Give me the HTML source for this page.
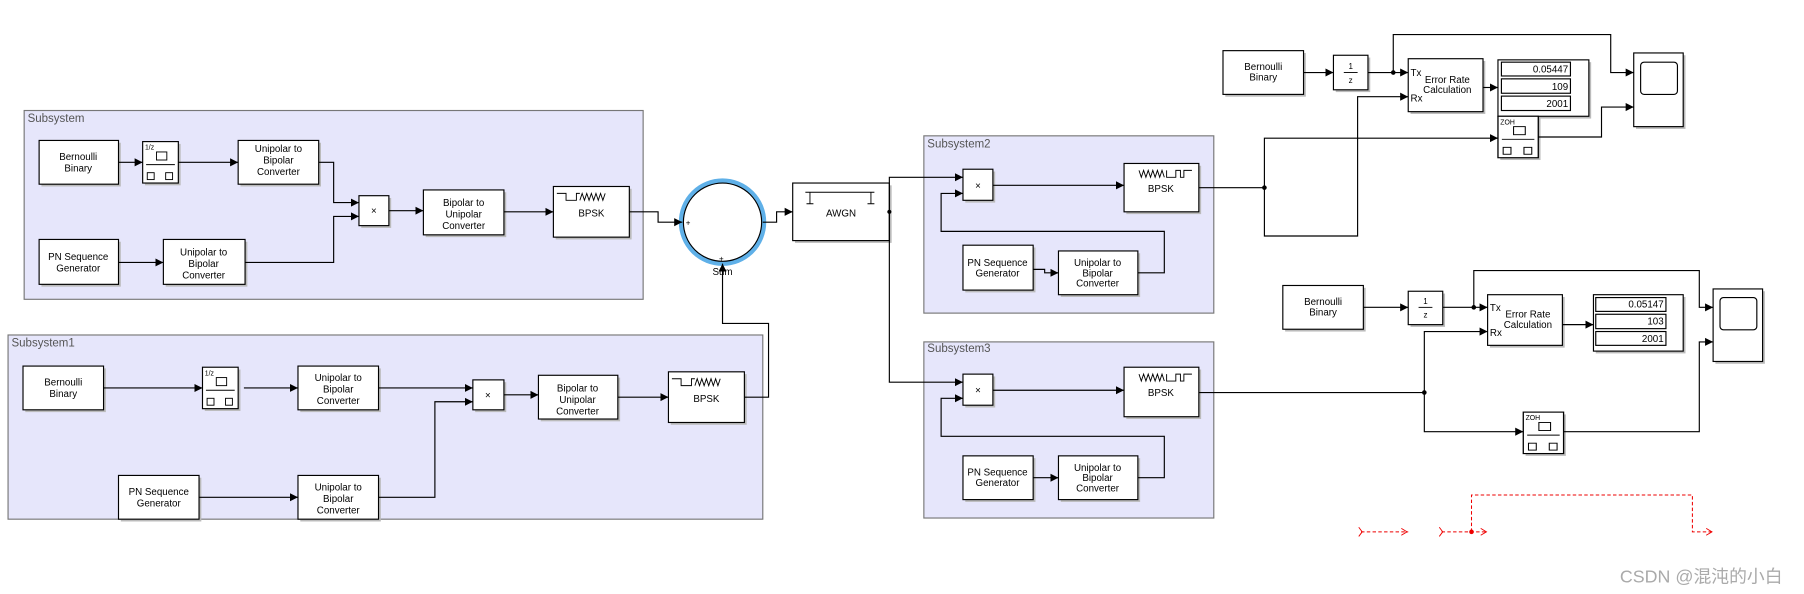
<!DOCTYPE html>
<html><head><meta charset="utf-8"><style>
html,body{margin:0;padding:0;background:#fff;}
svg{display:block;}
text{font-family:"Liberation Sans",sans-serif;font-size:8.5px;fill:#000;}
.t{text-anchor:middle;}
.lab{font-size:10px;fill:#555;}
</style></head><body>
<svg width="1804" height="594" viewBox="0 0 1568 516" preserveAspectRatio="none" xmlns="http://www.w3.org/2000/svg">
<defs>
<marker id="a" markerWidth="8" markerHeight="8" refX="7" refY="4" orient="auto" markerUnits="userSpaceOnUse"><path d="M0,0.5 L7,4 L0,7.5z" fill="#000"/></marker>
<marker id="r" markerWidth="8" markerHeight="8" refX="7" refY="4" orient="auto" markerUnits="userSpaceOnUse"><path d="M1,1 L6,4 L1,7" fill="none" stroke="#e00" stroke-width="0.8"/></marker>
<g id="rb"><rect x="0" y="0" width="31" height="36" fill="#fff" stroke="#000"/><rect x="12" y="9" width="9" height="7" fill="none" stroke="#000" stroke-width=".8"/><line x1="3" y1="20" x2="28" y2="20" stroke="#000" stroke-width=".8"/><rect x="4" y="27" width="6" height="6" fill="none" stroke="#000" stroke-width=".8"/><rect x="20" y="27" width="6" height="6" fill="none" stroke="#000" stroke-width=".8"/></g>
</defs>
<g fill="none" stroke="#000" stroke-width="1">
<rect x="21" y="96" width="538" height="164" fill="#e6e6fb" stroke="#777"/>
<rect x="7" y="291" width="656" height="160" fill="#e6e6fb" stroke="#777"/>
<rect x="803" y="118" width="252" height="154" fill="#e6e6fb" stroke="#777"/>
<rect x="803" y="297" width="252" height="153" fill="#e6e6fb" stroke="#777"/>
</g>
<text class="lab" x="24" y="106">Subsystem</text>
<text class="lab" x="10" y="301">Subsystem1</text>
<text class="lab" x="806" y="128">Subsystem2</text>
<text class="lab" x="806" y="306">Subsystem3</text>

<g fill="#bbb" stroke="none">
<rect x="36" y="124" width="69" height="38"/><rect x="209" y="124" width="70" height="38"/><rect x="36" y="210" width="69" height="39"/><rect x="144" y="210" width="71" height="39"/><rect x="314" y="172" width="26" height="26"/><rect x="370" y="167" width="70" height="39"/><rect x="483" y="164" width="66" height="44"/><rect x="691" y="161" width="84" height="50"/>
<rect x="22" y="320" width="70" height="38"/><rect x="261" y="320" width="70" height="38"/><rect x="413" y="332" width="27" height="26"/><rect x="470" y="328" width="69" height="38"/><rect x="583" y="325" width="66" height="44"/><rect x="105" y="415" width="70" height="38"/><rect x="261" y="415" width="70" height="38"/>
<rect x="839" y="149" width="26" height="27"/><rect x="979" y="144" width="65" height="42"/><rect x="839" y="215" width="61" height="39"/><rect x="922" y="220" width="69" height="38"/>
<rect x="839" y="327" width="26" height="27"/><rect x="979" y="321" width="65" height="43"/><rect x="839" y="398" width="61" height="38"/><rect x="922" y="398" width="69" height="38"/>
<rect x="1065" y="46" width="70" height="38"/><rect x="1161" y="50" width="30" height="30"/><rect x="1226" y="53" width="65" height="46"/><rect x="1304" y="54" width="79" height="49"/><rect x="1422" y="48" width="43" height="64"/>
<rect x="1117" y="250" width="70" height="38"/><rect x="1226" y="255" width="30" height="29"/><rect x="1295" y="258" width="65" height="44"/><rect x="1387" y="258" width="78" height="49"/><rect x="1491" y="253" width="43" height="63"/>
<rect x="126" y="125" width="31" height="36"/><rect x="178" y="321" width="31" height="36"/><rect x="1304" y="103" width="35" height="36"/><rect x="1326" y="360" width="35" height="36"/>
</g>

<g fill="#fff" stroke="#000" stroke-width="1">
<rect x="34" y="122" width="69" height="38"/><rect x="207" y="122" width="70" height="38"/><rect x="34" y="208" width="69" height="39"/><rect x="142" y="208" width="71" height="39"/><rect x="312" y="170" width="26" height="26"/><rect x="368" y="165" width="70" height="39"/><rect x="481" y="162" width="66" height="44"/><rect x="689" y="159" width="84" height="50"/>
<rect x="20" y="318" width="70" height="38"/><rect x="259" y="318" width="70" height="38"/><rect x="411" y="330" width="27" height="26"/><rect x="468" y="326" width="69" height="38"/><rect x="581" y="323" width="66" height="44"/><rect x="103" y="413" width="70" height="38"/><rect x="259" y="413" width="70" height="38"/>
<rect x="837" y="147" width="26" height="27"/><rect x="977" y="142" width="65" height="42"/><rect x="837" y="213" width="61" height="39"/><rect x="920" y="218" width="69" height="38"/>
<rect x="837" y="325" width="26" height="27"/><rect x="977" y="319" width="65" height="43"/><rect x="837" y="396" width="61" height="38"/><rect x="920" y="396" width="69" height="38"/>
<rect x="1063" y="44" width="70" height="38"/><rect x="1159" y="48" width="30" height="30"/><rect x="1224" y="51" width="65" height="46"/><rect x="1302" y="52" width="79" height="49"/><rect x="1420" y="46" width="43" height="64"/>
<rect x="1115" y="248" width="70" height="38"/><rect x="1224" y="253" width="30" height="29"/><rect x="1293" y="256" width="65" height="44"/><rect x="1385" y="256" width="78" height="49"/><rect x="1489" y="251" width="43" height="63"/>
<rect x="1305" y="54" width="60" height="12"/><rect x="1305" y="68.5" width="60" height="12.5"/><rect x="1305" y="83.5" width="60" height="12.5"/>
<rect x="1387" y="258.5" width="61" height="12"/><rect x="1387" y="273" width="61" height="12.5"/><rect x="1387" y="288" width="61" height="12"/>
<rect x="1426" y="54" width="32" height="28" rx="3"/><rect x="1495" y="258.5" width="32" height="28" rx="3"/>
</g>
<use href="#rb" x="124" y="123"/><use href="#rb" x="176" y="319"/>
<g transform="translate(1302,101) scale(1.13,1)"><use href="#rb"/></g>
<g transform="translate(1324,358) scale(1.13,1)"><use href="#rb"/></g>
<text x="126" y="130" style="font-size:6px">1/z</text><text x="178" y="326" style="font-size:6px">1/z</text>
<text x="1304" y="108" style="font-size:6px">ZOH</text><text x="1326" y="365" style="font-size:6px">ZOH</text>

<circle cx="628" cy="193" r="36" fill="none" stroke="#5fb0e8" stroke-width="4"/>
<circle cx="628" cy="193" r="34" fill="#fff" stroke="#000"/>
<text x="596" y="196" style="font-size:7px">+</text><text x="625" y="227" style="font-size:7px">+</text>
<text class="t" x="628" y="239">Sum</text>

<g fill="none" stroke="#000" stroke-width=".8">
<path d="M484,168 h8 v6 h9 v-6 h3"/><path d="M504,174 l2,-6 2,6 2,-6 2,6 2,-6 2,6 2,-6 2,6 2,-6 2,6 2,-6"/>
<path d="M584,329 h8 v6 h9 v-6 h3"/><path d="M604,335 l2,-6 2,6 2,-6 2,6 2,-6 2,6 2,-6 2,6 2,-6 2,6 2,-6"/>
<path d="M990,148 l2,6 2,-6 2,6 2,-6 2,6 2,-6 2,6 2,-6 2,6 2,-6 2,6"/><path d="M1014,148 v6 h8 v-6 h4 v6 h3 v-6 h7"/>
<path d="M990,325 l2,6 2,-6 2,6 2,-6 2,6 2,-6 2,6 2,-6 2,6 2,-6 2,6"/><path d="M1014,325 v6 h8 v-6 h4 v6 h3 v-6 h7"/>
<path d="M700,167 h60 M704,167 v10 M757,167 v10 M701,177 h6 M754,177 h6"/>
<line x1="1168" y1="63" x2="1180" y2="63"/><line x1="1233" y1="267" x2="1245" y2="267"/>
</g>

<g fill="none" stroke="#000" stroke-width="1" marker-end="url(#a)">
<path d="M103,141H124"/><path d="M155,141H207"/><path d="M277,141H290V176H312"/><path d="M213,228H290V188H312"/><path d="M103,228H142"/><path d="M338,183H368"/><path d="M438,184H481"/><path d="M547,184H572V193H593"/>
<path d="M663,193H675V184H689"/>
<path d="M90,337H176"/><path d="M212,337H259"/><path d="M329,337H411"/><path d="M329,432H378V349H411"/><path d="M438,343H468"/><path d="M537,345H581"/><path d="M647,345H668V281H628V229"/><path d="M173,432H259"/>
<path d="M773,184V154H837"/><path d="M773,184V332H837"/>
<path d="M863,161H977"/><path d="M898,234H908V237H920"/><path d="M989,237H1012V201H818V168H837"/>
<path d="M863,339H977"/><path d="M898,415H920"/><path d="M989,415H1012V379H818V346H837"/>
<path d="M1099,163V205H1180V84H1224"/><path d="M1099,163V120H1302"/>
<path d="M1133,63H1159"/><path d="M1189,63H1224"/><path d="M1211,63V30H1400V63H1420"/><path d="M1289,76H1302"/><path d="M1337,119H1392V93H1420"/>
<path d="M1238,341V288H1293"/><path d="M1238,341V375H1324"/><path d="M1359,375H1477V297H1489"/>
<path d="M1185,267H1224"/><path d="M1254,267H1293"/><path d="M1281,267V235H1477V267H1489"/><path d="M1358,282H1385"/>
</g>
<g fill="none" stroke="#000" stroke-width="1"><path d="M1042,163H1099"/><path d="M1042,341H1238"/></g>
<g fill="#000"><circle cx="773" cy="184" r="1.8"/><circle cx="1099" cy="163" r="2"/><circle cx="1211" cy="63" r="2"/><circle cx="1238" cy="341" r="2"/><circle cx="1281" cy="267" r="2"/></g>

<g fill="none" stroke="#e00" stroke-width="0.9" stroke-dasharray="3,2" marker-end="url(#r)">
<path d="M1183,462H1224"/><path d="M1253,462H1293"/><path d="M1279,462V430H1471V462H1489"/>
</g>
<path d="M1181,458 l3,4 -3,4 M1251,458 l3,4 -3,4" fill="none" stroke="#e00" stroke-width=".8"/>
<circle cx="1279" cy="462" r="2" fill="#e00"/>

<text class="t" x="68" y="139">Bernoulli</text><text class="t" x="68" y="149">Binary</text>
<text class="t" x="242" y="132">Unipolar to</text><text class="t" x="242" y="142">Bipolar</text><text class="t" x="242" y="152">Converter</text>
<text class="t" x="68" y="226">PN Sequence</text><text class="t" x="68" y="236">Generator</text>
<text class="t" x="177" y="222">Unipolar to</text><text class="t" x="177" y="232">Bipolar</text><text class="t" x="177" y="242">Converter</text>
<text class="t" x="325" y="186">×</text>
<text class="t" x="403" y="179">Bipolar to</text><text class="t" x="403" y="189">Unipolar</text><text class="t" x="403" y="199">Converter</text>
<text class="t" x="514" y="188">BPSK</text><text class="t" x="731" y="188">AWGN</text>
<text class="t" x="55" y="335">Bernoulli</text><text class="t" x="55" y="345">Binary</text>
<text class="t" x="294" y="331">Unipolar to</text><text class="t" x="294" y="341">Bipolar</text><text class="t" x="294" y="351">Converter</text>
<text class="t" x="424" y="346">×</text>
<text class="t" x="502" y="340">Bipolar to</text><text class="t" x="502" y="350">Unipolar</text><text class="t" x="502" y="360">Converter</text>
<text class="t" x="614" y="349">BPSK</text>
<text class="t" x="138" y="430">PN Sequence</text><text class="t" x="138" y="440">Generator</text>
<text class="t" x="294" y="426">Unipolar to</text><text class="t" x="294" y="436">Bipolar</text><text class="t" x="294" y="446">Converter</text>
<text class="t" x="850" y="164">×</text><text class="t" x="1009" y="167">BPSK</text>
<text class="t" x="867" y="231">PN Sequence</text><text class="t" x="867" y="240">Generator</text>
<text class="t" x="954" y="231">Unipolar to</text><text class="t" x="954" y="240">Bipolar</text><text class="t" x="954" y="249">Converter</text>
<text class="t" x="850" y="342">×</text><text class="t" x="1009" y="344">BPSK</text>
<text class="t" x="867" y="413">PN Sequence</text><text class="t" x="867" y="422">Generator</text>
<text class="t" x="954" y="409">Unipolar to</text><text class="t" x="954" y="418">Bipolar</text><text class="t" x="954" y="427">Converter</text>
<text class="t" x="1098" y="61">Bernoulli</text><text class="t" x="1098" y="70">Binary</text>
<text class="t" x="1174" y="60" style="font-size:7px">1</text><text class="t" x="1174" y="72" style="font-size:7px">z</text>
<text x="1226" y="66">Tx</text><text x="1226" y="88">Rx</text>
<text class="t" x="1258" y="72">Error Rate</text><text class="t" x="1258" y="81">Calculation</text>
<text x="1363" y="63" style="text-anchor:end">0.05447</text><text x="1363" y="78" style="text-anchor:end">109</text><text x="1363" y="93" style="text-anchor:end">2001</text>
<text class="t" x="1150" y="265">Bernoulli</text><text class="t" x="1150" y="274">Binary</text>
<text class="t" x="1239" y="264" style="font-size:7px">1</text><text class="t" x="1239" y="276" style="font-size:7px">z</text>
<text x="1295" y="270">Tx</text><text x="1295" y="292">Rx</text>
<text class="t" x="1328" y="276">Error Rate</text><text class="t" x="1328" y="285">Calculation</text>
<text x="1446" y="267" style="text-anchor:end">0.05147</text><text x="1446" y="282" style="text-anchor:end">103</text><text x="1446" y="297" style="text-anchor:end">2001</text>
<text x="1408" y="506" style='font-size:15.5px;fill:#aaa;font-family:"Liberation Sans","Noto Sans CJK SC",sans-serif'>CSDN @混沌的小白</text>
</svg>
</body></html>
